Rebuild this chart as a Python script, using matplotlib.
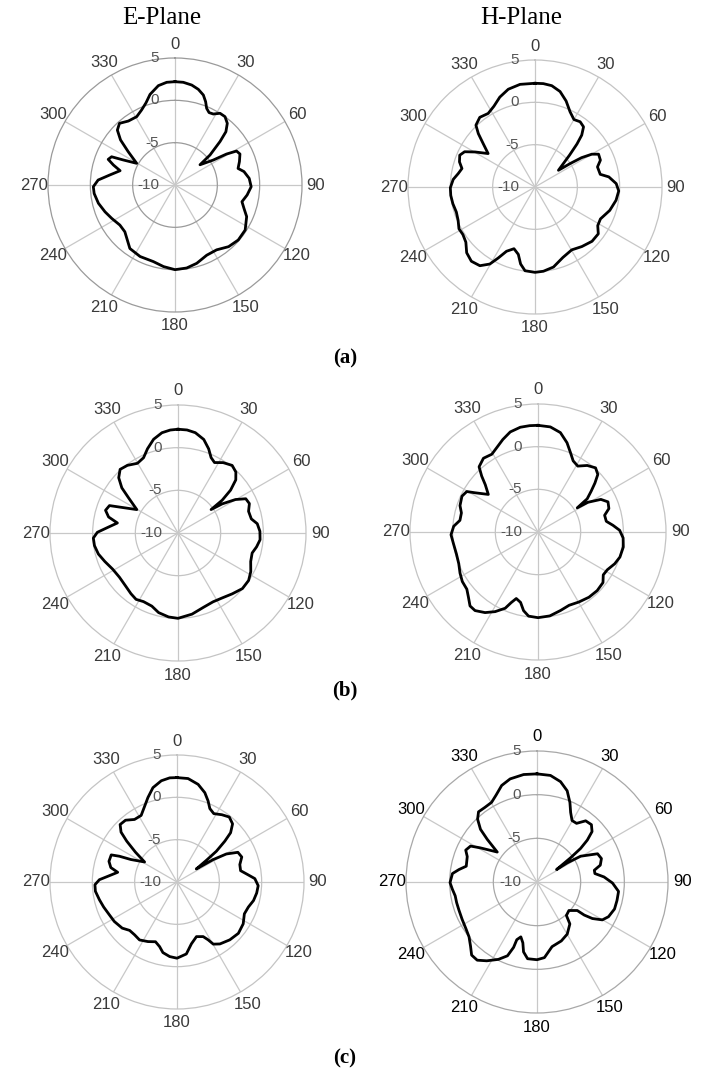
import matplotlib.pyplot as plt
import numpy as np

plt.rcParams['font.family'] = ['Liberation Sans', 'DejaVu Sans']

# (a) E-plane: angle (deg, clockwise from 0) and gain (dB)
ea_theta = [0, 4.6, 9.5, 13.7, 17.5, 20.2, 22.4, 25.2, 28.4, 32.1, 36.2, 40.3, 43.7, 46, 49.4, 51, 56.9, 59, 61.1, 64.5,
            70, 75.3, 79, 84.9, 91.3, 97.9, 104, 108.7, 113.8, 122.7, 131, 139, 147.3, 155.7, 164.5, 172, 180, 188,
            195.8, 206, 215.4, 220.9, 227, 234, 242.2, 249, 256.6, 264, 268.8, 273.7, 278.7, 284.6, 288, 291, 294,
            295.8, 299.5, 305.5, 309.6, 313.6, 318, 323.9, 330.7, 336, 340.6, 344.6, 350.5, 355.4]
ea_db = [2.2, 2.17, 1.97, 1.63, 1.14, 0.48, -0.2, -0.55, -0.47, 0.0, 0.0, -0.45, -1.3, -2.6, -4.55, -6.2, -4.6, -2.9, -1.7, -1.5,
         -1.9, -2.3, -1.7, -1.2, -1.0, -1.4, -1.85, -1.4, -0.75, -0.15, -0.1, -0.35, -0.9, -0.9, -0.4, -0.1, 0.0, -0.27,
         -0.6, -0.6, -0.8, -1.4, -1.9, -1.95, -1.55, -1.15, -0.7, -0.4, -0.35, -0.9, -2.2, -3.3, -2.35, -1.55, -1.8,
         -3.2, -4.8, -3.2, -1.65, -0.6, -0.2, -0.65, -0.75, -0.3, 0.3, 1.1, 1.9, 2.17]

# (a) H-plane
ha_theta = [0, 4.6, 9.4, 14.7, 19.9, 25, 30, 34.7, 38.9, 42, 44.3, 47.3, 54.5, 56.3, 57.8, 60, 62.7, 67.7, 72.2, 79,
            82.2, 87.6, 92.7, 99.3, 107.4, 116, 121.6, 126.5, 133.6, 141.8, 149.7, 158.4, 167, 174.3, 180, 186.8,
            190.6, 193.9, 198.8, 203.9, 207.4, 210.4, 215, 220.6, 226.1, 231.4, 236.6, 241.2, 246.5, 252.3, 258.5,
            264.3, 269.5, 275.3, 280, 284.2, 288.4, 292.9, 296.6, 300.3, 305.5, 310, 313.3, 316.3, 321.6, 327.5,
            333, 338.6, 344.7, 351.7]
ha_db = [2.25, 2.25, 2.13, 1.66, 0.8, -0.2, -0.8, -0.63, -0.87, -1.75, -2.9, -4.45, -6.6, -5.0, -3.5, -2.25, -1.55, -1.65, -2.25, -2.15,
         -1.2, -0.4, -0.1, -0.3, -0.75, -1.4, -1.3, -0.7, -0.7, -1.05, -1.4, -1.05, -0.3, 0.0, 0.08, -0.04,
         -0.75, -1.8, -2.3, -1.7, -0.55, 0.55, 1.35, 1.55, 1.2, 0.45, 0.2, 0.25, -0.1, -0.25, -0.1,
         0.0, 0.0, -0.3, -0.8, -1.1, -0.6, -0.35, -0.7, -1.8, -3.2, -2.0, -0.8, 0.1, 0.5, 0.3,
         0.7, 1.4, 1.97, 2.25]

# (b) E-plane
eb_theta = [0, 5, 9.8, 15.4, 20, 23.7, 27.4, 32.7, 38.7, 43.5, 47.4, 50.8, 53.4, 54.7, 56.6, 59.8, 63.2, 67.6, 72.9, 79.1,
            83.3, 88.8, 94.7, 100, 105.1, 111.4, 117.9, 123.9, 130.8, 138.3, 145.9, 153, 160.9, 170.2, 180, 186.4,
            193.7, 199.7, 206.7, 212.3, 217.8, 224.1, 233, 241, 248.7, 255.2, 261.4, 266.6, 270.5, 274, 279.4,
            283, 287.4, 291.8, 293.7, 299.6, 305.4, 308.8, 313, 317.7, 323.2, 329.8, 335.4, 340.1, 345.4, 350.9, 355.7]
eb_db = [2.16, 2.12, 1.93, 1.37, 0.5, -0.35, -0.7, -0.2, 0.15, -0.15, -0.8, -2.05, -3.55, -5.25, -3.8, -2.2, -1.1, -0.95, -1.35, -1.25,
         -0.65, -0.4, -0.35, -0.65, -1.0, -0.85, -0.35, -0.03, -0.03, -0.45, -0.8, -0.95, -0.8, -0.35, 0.0, -0.1,
         -0.4, -0.9, -1.0, -0.8, -1.0, -1.25, -1.4, -1.25, -0.8, -0.35, -0.1, -0.06, -0.55, -1.6, -2.8,
         -1.65, -1.1, -1.35, -2.4, -4.45, -2.9, -1.55, -0.5, 0.08, -0.1, -0.55, -0.3, 0.5, 1.35, 1.9, 2.1]

# (b) H-plane
hb_theta = [0, 6.7, 12.7, 18, 22.3, 26.3, 31.1, 36.5, 41.9, 46.1, 49.3, 52.5, 56, 58.4, 59.2, 62.6, 66.7, 71.7, 75.9, 81.1,
            84.9, 88.8, 94, 100, 107, 112.5, 118.6, 123.3, 127.9, 134.7, 142, 149.7, 157, 164, 172, 180, 186.4,
            190.4, 193.9, 198.1, 200.8, 203.3, 208.3, 213.3, 218.7, 222.6, 226.8, 231.2, 236.8, 242.2, 248.2, 255,
            262.1, 268.2, 273.9, 278.5, 284, 288.7, 295.2, 299.6, 301.9, 307.1, 311.9, 314.8, 317.9, 323.5, 329.3,
            334.6, 339.2, 344.5, 350.4, 355.5]
hb_db = [2.5, 2.4, 1.94, 1.0, 0.04, -0.7, -0.98, -0.3, 0.1, -0.27, -1.2, -2.15, -3.05, -4.6, -3.2, -1.7, -1.07, -1.25, -1.95, -1.9,
         -1.18, -0.43, 0.0, 0.15, 0.04, -0.27, -0.75, -0.85, -0.35, -0.24, -0.3, -0.5, -0.67, -0.43, -0.07, 0.04, -0.08,
         -0.63, -1.5, -1.8, -1.15, -0.27, 0.6, 1.3, 1.8, 1.77, 1.18, 0.7, 0.6, 0.33, 0.0, -0.1,
         0.0, 0.2, -0.1, -0.75, -0.75, -0.35, -0.15, -0.4, -1.3, -2.7, -1.7, -0.7, 0.3, 0.75, 0.6,
         1.07, 1.6, 2.17, 2.45, 2.5]

# (c) E-plane
ec_theta = [0, 6.1, 12.2, 17.3, 21, 24.1, 28.3, 33.7, 38.8, 43.7, 47.4, 49.5, 52, 53.6, 56, 58.2, 60.4, 64, 68.9, 74.5,
            79.9, 83.8, 87.5, 92.6, 97.9, 103.6, 109.4, 115.3, 122.3, 129.9, 137.6, 145.3, 149.7, 151.7, 154.4,
            160.4, 166.9, 172.6, 180, 185.6, 191.3, 195.1, 199.8, 206, 212.9, 218.8, 224.4, 229.9, 237.8, 244.8,
            251.1, 257.1, 263.5, 268.1, 271.7, 274.7, 279.3, 282.3, 286.9, 292.4, 294.1, 296, 301.7, 305.7, 309.1,
            311.7, 315.3, 320.2, 325.8, 331.7, 336.7, 341, 345.7, 351.2, 356]
ec_db = [2.33, 2.29, 1.8, 1.05, 0.25, -0.5, -0.83, -0.45, -0.15, -0.5, -1.4, -2.57, -4.1, -5.7, -7.25, -5.0, -3.3, -2.0, -1.8, -2.3,
         -2.37, -1.65, -0.8, -0.4, -0.5, -0.7, -1.07, -1.2, -0.75, -0.55, -0.75, -1.1, -1.5, -2.24, -2.85,
         -3.15, -2.5, -1.43, -1.0, -1.15, -1.5, -2.1, -2.5, -2.17, -1.85, -2.0, -2.0, -1.54, -1.25, -1.1,
         -0.85, -0.6, -0.3, -0.3, -0.83, -1.8, -2.9, -2.0, -1.6, -1.6, -2.55, -3.95, -5.5, -3.95, -2.35,
         -1.15, -0.45, -0.5, -1.07, -1.07, -0.3, 0.55, 1.5, 2.1, 2.33]

# (c) H-plane
hc_theta = [0, 7.2, 13.2, 18.3, 22.5, 25.8, 29.7, 34, 38.5, 43.5, 47.5, 50.2, 52.4, 54.2, 57.5, 57.7, 59.4, 65, 70, 75.1,
            78.4, 81.7, 85.7, 90.8, 96.6, 103, 109.2, 115.9, 120.1, 123.4, 125, 125.3, 131.8, 138.7, 141.9, 149.9,
            157.6, 166.9, 174.4, 180, 187, 190.9, 193.1, 196.4, 199.3, 199.7, 201.8, 206.5, 212.5, 217.4, 221.8,
            226, 231.1, 236.9, 243.5, 250.3, 255.6, 260.4, 265.2, 269.6, 275.7, 279.1, 282.6, 290, 294.1, 298.4,
            301, 307, 310.6, 313, 316.6, 320.2, 325.1, 330.3, 334.8, 339.9, 345.4, 352.9]
hc_db = [2.38, 2.3, 1.8, 1.0, -0.15, -1.15, -1.9, -1.9, -1.05, -0.95, -1.45, -2.5, -3.7, -5.25, -7.35, -5.9, -4.2, -2.35, -2.15, -2.5,
         -3.3, -3.3, -2.3, -1.35, -0.6, -0.6, -0.6, -0.9, -1.35, -2.4, -3.4, -4.35, -5.1, -4.9, -3.9, -3.1,
         -2.7, -2.4, -1.3, -1.1, -1.15, -1.85, -2.85, -3.45, -3.0, -2.05, -0.9, -0.1, 0.7, 1.27, 1.23,
         0.58, 0.0, -0.27, -0.42, -0.5, -0.5, -0.5, -0.27, -0.04, -0.27, -0.96, -1.7, -1.5, -1.06, -1.35,
         -2.4, -4.3, -2.5, -1.15, -0.1, 0.46, 0.42, 0.5, 1.0, 1.77, 2.2, 2.4]

theta_ticks = list(range(0, 360, 30))
r_labels = [5, 0, -5, -10]

W, H = 714, 1074
fig = plt.figure(figsize=(W / 100, H / 100), dpi=100)


def panel(cx, cy, R, theta, db, ring_color='#c4c4c4', label_color='#3a3a3a'):
    ax = fig.add_axes([(cx - R) / W, 1 - (cy + R) / H, 2 * R / W, 2 * R / H], projection='polar')
    ax.set_theta_zero_location('N')
    ax.set_theta_direction(-1)
    t = np.radians(theta + [theta[0] + 360])
    r = db + [db[0]]
    ax.plot(t, r, color='black', lw=2.0, zorder=5, solid_joinstyle='round')
    ax.set_ylim(-10, 5)
    ax.set_yticks([-5, 0])
    ax.set_yticklabels([])
    ax.set_xticks(np.radians(theta_ticks))
    ax.set_xticklabels([])
    ax.xaxis.grid(True, color='#c8c8c8', lw=0.9)
    ax.yaxis.grid(True, color=ring_color, lw=0.9)
    ax.spines['polar'].set_color(ring_color)
    ax.spines['polar'].set_linewidth(0.9)
    for deg in theta_ticks:
        ax.text(np.radians(deg), 6.65, str(deg), ha='center', va='center',
                fontsize=12, color=label_color)
    for v in r_labels:
        ax.annotate(str(v), xy=(0, v), xytext=(-16, 0), textcoords='offset pixels',
                    ha='right', va='center', fontsize=11, color='#555555',
                    annotation_clip=False)
    return ax


panel(175, 185, 127, ea_theta, ea_db, ring_color='#9a9a9a')
panel(535, 187, 127, ha_theta, ha_db)
panel(178, 533, 128, eb_theta, eb_db)
panel(538, 532, 128, hb_theta, hb_db)
panel(177, 882, 127, ec_theta, ec_db)
panel(537, 882, 131, hc_theta, hc_db, ring_color='#a8a8a8', label_color='black')

fig.text(162 / W, 1 - 18 / H, 'E-Plane', ha='center', va='center',
         family='Liberation Serif', fontsize=18)
fig.text(521 / W, 1 - 18 / H, 'H-Plane', ha='center', va='center',
         family='Liberation Serif', fontsize=18)
for lab, y in [('(a)', 358), ('(b)', 690), ('(c)', 1058)]:
    fig.text(345 / W, 1 - y / H, lab, ha='center', va='center',
             family='Liberation Serif', fontweight='bold', fontsize=15)

fig.savefig('out.png', dpi=100)
